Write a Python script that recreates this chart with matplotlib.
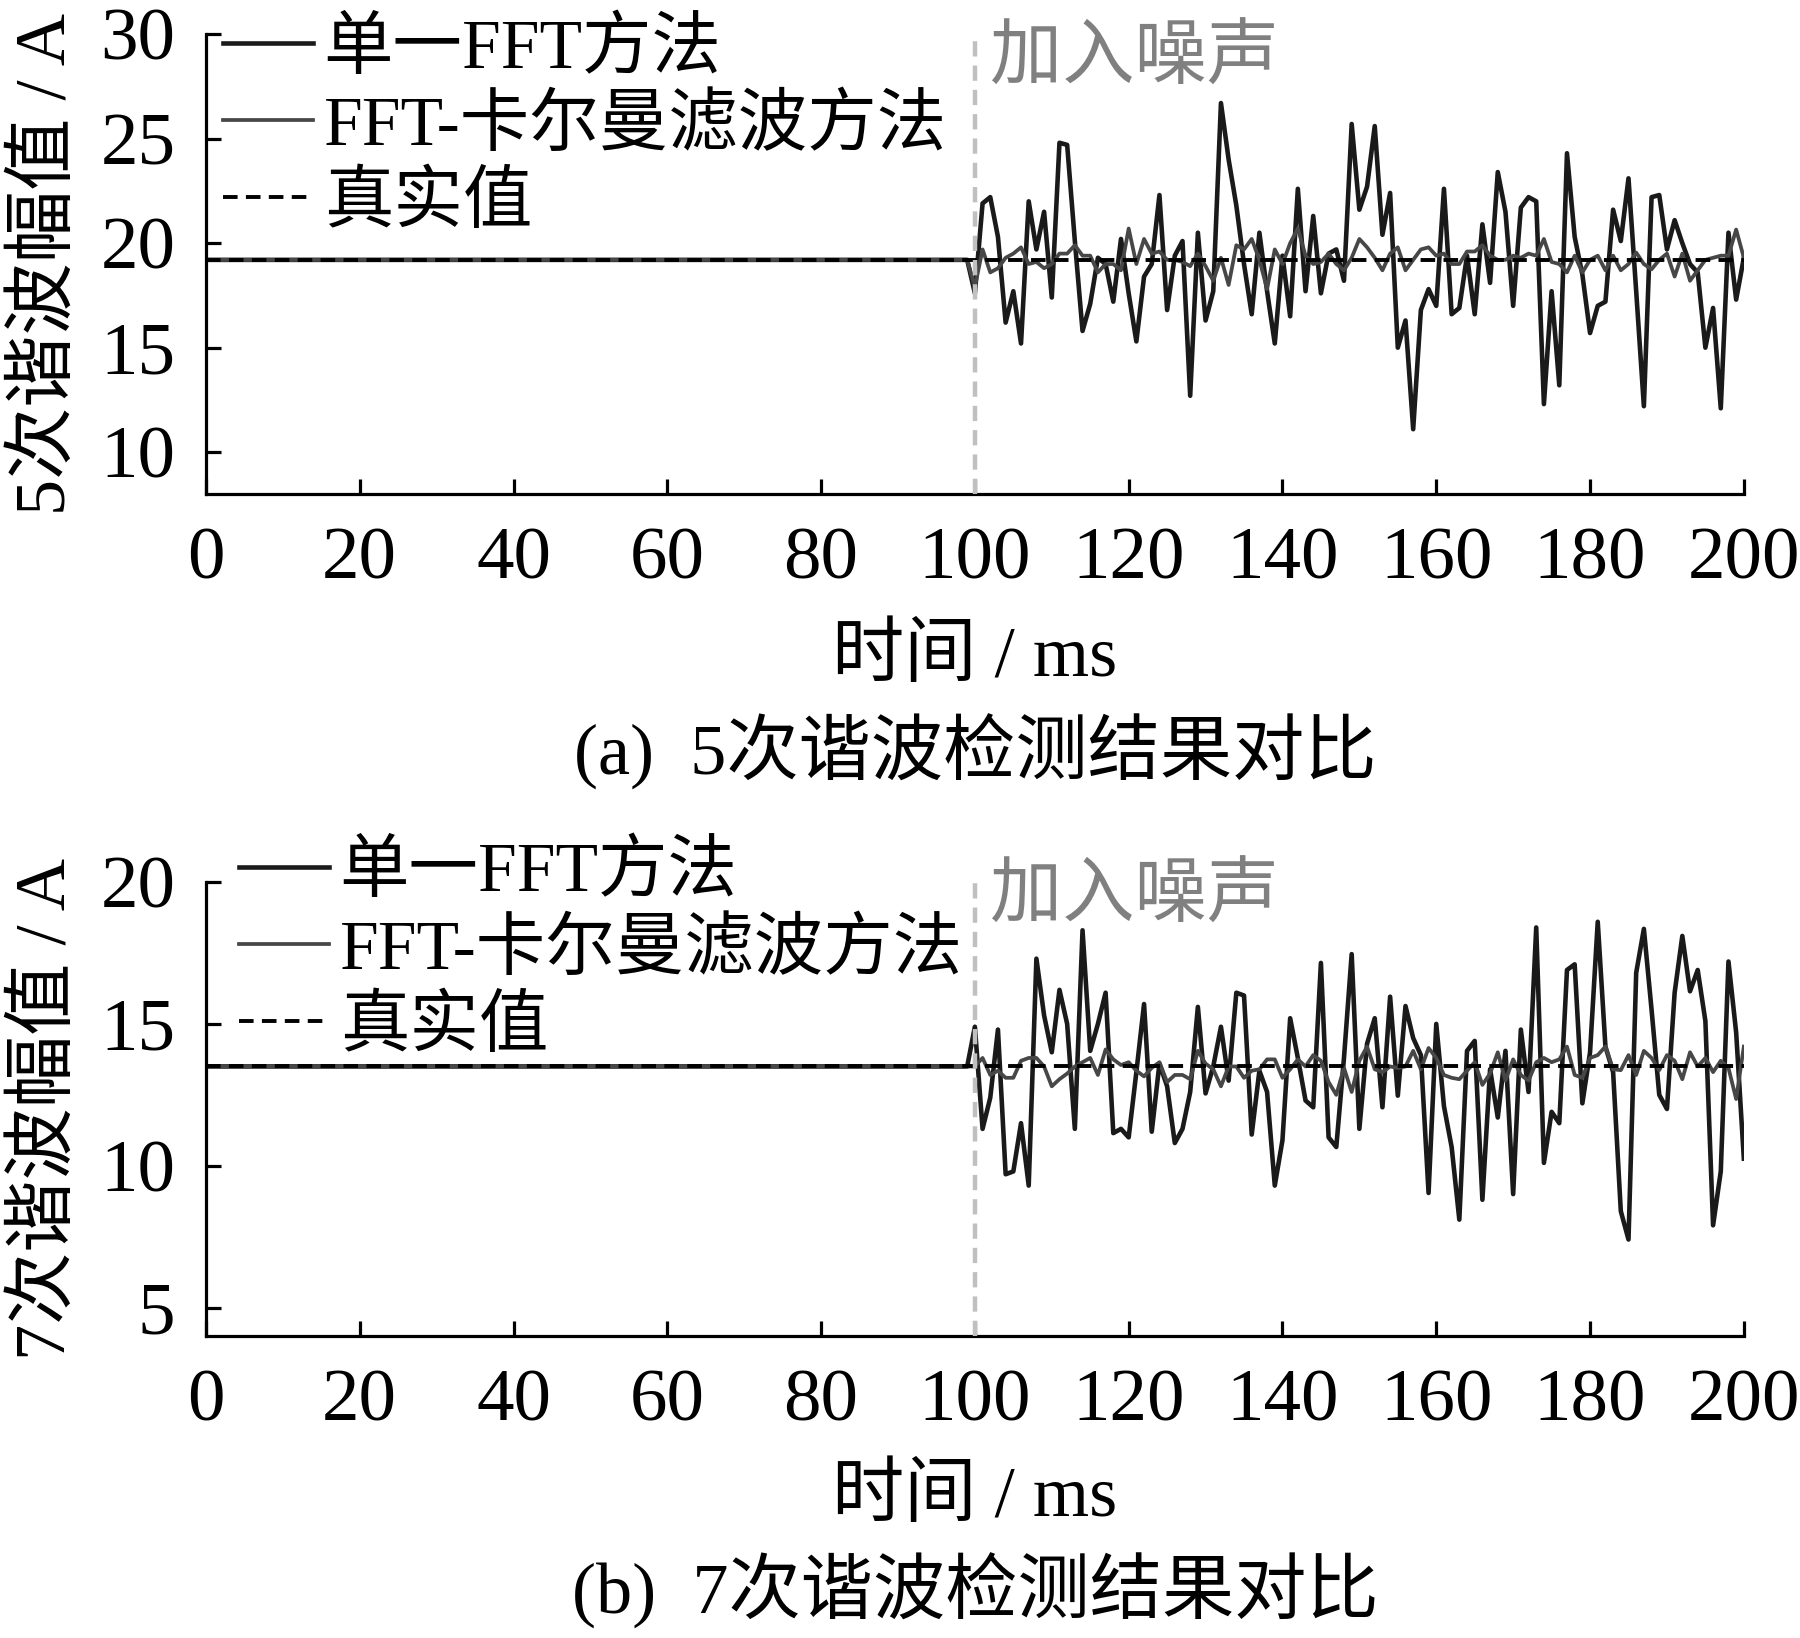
import numpy as np
import matplotlib

matplotlib.use("Agg")
import matplotlib.pyplot as plt

# time axis (ms); noise is switched on at 100 ms
time_ms = np.arange(0, 201)
noise_start = 100

# true harmonic amplitudes (A)
true_5 = 19.2
true_7 = 13.5

# 5th harmonic, samples 100..200 ms
fft_5 = [
    17.6, 21.9, 22.2, 20.3, 16.2, 17.7, 15.2, 22.0, 19.7, 21.5,
    17.4, 24.8, 24.7, 20.1, 15.8, 17.1, 19.3, 19.0, 17.2, 20.2,
    17.6, 15.3, 18.4, 19.0, 22.3, 16.8, 19.4, 20.1, 12.7, 20.5,
    16.3, 17.7, 26.7, 24.0, 21.8, 19.0, 16.6, 20.5, 17.7, 15.2,
    19.4, 16.5, 22.6, 17.7, 21.3, 17.6, 19.5, 19.7, 18.2, 25.7,
    21.6, 22.7, 25.6, 20.4, 22.4, 15.0, 16.3, 11.1, 16.8, 17.8,
    17.0, 22.6, 16.6, 16.9, 19.4, 16.6, 20.9, 18.1, 23.4, 21.5,
    17.0, 21.7, 22.2, 22.0, 12.3, 17.7, 13.2, 24.3, 20.3, 18.5,
    15.7, 17.0, 17.2, 21.6, 20.1, 23.1, 17.7, 12.2, 22.2, 22.3,
    19.7, 21.1, 20.0, 19.0, 18.6, 15.0, 16.9, 12.1, 20.5, 17.3,
    19.3,
]
kalman_5 = [
    17.9, 19.7, 18.6, 18.8, 19.3, 19.5, 19.8, 19.0, 19.1, 18.8,
    19.0, 19.5, 19.5, 19.9, 19.4, 19.4, 18.6, 19.0, 19.0, 18.7,
    20.7, 19.0, 20.2, 19.5, 19.6, 19.2, 19.2, 19.1, 18.9, 19.5,
    18.9, 18.2, 19.3, 18.0, 19.9, 19.7, 20.2, 19.2, 17.8, 19.7,
    19.0, 20.0, 20.7, 19.4, 19.0, 19.1, 19.5, 19.0, 18.7, 19.3,
    20.2, 19.8, 19.3, 18.7, 19.5, 19.8, 18.7, 19.2, 19.7, 19.8,
    19.4, 19.5, 19.0, 19.0, 19.6, 19.6, 19.9, 19.4, 19.2, 19.2,
    19.4, 19.3, 19.5, 19.4, 20.2, 19.1, 19.0, 18.6, 19.4, 18.6,
    19.2, 19.4, 18.7, 19.4, 18.7, 19.0, 19.55, 19.0, 18.75, 19.2,
    19.5, 18.4, 19.5, 18.2, 18.7, 19.2, 19.3, 19.4, 19.4, 20.65,
    19.3,
]

# 7th harmonic, samples 100..200 ms
fft_7 = [
    14.9, 11.3, 12.4, 14.8, 9.7, 9.8, 11.5, 9.3, 17.3, 15.3,
    14.0, 16.2, 15.0, 11.3, 18.3, 14.05, 15.0, 16.1, 11.15, 11.3,
    11.0, 13.3, 15.7, 11.2, 13.6, 12.8, 10.8, 11.3, 12.6, 15.6,
    12.55, 13.5, 14.9, 13.0, 16.1, 16.0, 11.1, 13.35, 12.6, 9.3,
    10.9, 15.2, 13.8, 12.3, 12.06, 17.15, 11.0, 10.66, 13.8, 17.46,
    11.3, 14.3, 15.2, 12.06, 15.96, 12.47, 15.63, 14.5, 13.9, 9.04,
    15.0, 12.1, 10.66, 8.1, 14.05, 14.4, 8.8, 13.4, 11.7, 14.05,
    9.0, 14.8, 12.6, 18.4, 10.1, 11.9, 11.5, 16.9, 17.1, 12.2,
    14.0, 18.6, 14.2, 13.3, 8.4, 7.4, 16.8, 18.35, 15.5, 12.5,
    12.0, 16.1, 18.1, 16.15, 16.9, 15.1, 7.9, 9.8, 17.2, 14.7,
    10.25,
]
kalman_7 = [
    13.5, 13.8, 13.2, 13.35, 13.1, 13.1, 13.7, 13.8, 13.8, 13.5,
    12.8, 13.05, 13.25, 13.5, 13.65, 13.8, 13.2, 14.1, 13.75, 13.55,
    13.65, 13.35, 13.15, 13.45, 13.65, 12.95, 13.2, 13.2, 13.05, 14.05,
    13.6, 13.4, 12.8, 13.5, 13.5, 13.1, 13.35, 13.4, 13.75, 13.75,
    13.1, 13.4, 13.75, 13.5, 13.9, 13.7, 12.95, 12.5, 13.45, 12.6,
    13.7, 14.2, 13.4, 13.3, 13.5, 13.45, 13.5, 14.05, 13.4, 14.15,
    13.8, 13.2, 13.1, 13.05, 13.35, 13.65, 12.85, 13.25, 14.0, 13.0,
    13.75, 13.2, 13.0, 13.65, 13.8, 13.65, 13.75, 14.2, 13.2, 13.1,
    13.8, 13.9, 14.2, 13.4, 13.37, 13.9, 13.2, 14.05, 13.8, 13.37,
    13.9, 13.7, 13.05, 14.0, 13.5, 13.8, 13.3, 13.7, 13.45, 12.35,
    14.2,
]

legend_labels = ["单一FFT方法", "FFT-卡尔曼滤波方法", "真实值"]
ylabels = ["5次谐波幅值 / A", "7次谐波幅值 / A"]
captions = ["(a)  5次谐波检测结果对比", "(b)  7次谐波检测结果对比"]
xlabel = "时间 / ms"
noise_label = "加入噪声"
xticks = list(range(0, 201, 20))
yticks_5 = [10, 15, 20, 25, 30]
yticks_7 = [5, 10, 15, 20]


def with_steady(level, noisy):
    # before 100 ms every method sits on the true value
    return np.concatenate([np.full(noise_start, level), noisy])


def draw_panel(fig, ax, true_val, fft_vals, kalman_vals, ylim, yticks,
               ylabel, caption, legend_xy, noise_y):
    ax.plot(time_ms, with_steady(true_val, fft_vals), color="#1a1a1a",
            lw=3.3, label=legend_labels[0])
    ax.plot(time_ms, with_steady(true_val, kalman_vals), color="#474747",
            lw=2.7, label=legend_labels[1])
    ax.plot([time_ms[0], time_ms[-1]], [true_val, true_val], color="black",
            lw=2.8, ls=(0, (10.5, 6.0)), label=legend_labels[2])
    ax.axvline(noise_start, color="#c0c0c0", lw=3.2, ls=(0, (11, 6.5)),
               zorder=5)

    ax.set_xlim(0, 200)
    ax.set_ylim(*ylim)
    ax.set_xticks(xticks)
    ax.set_yticks(yticks)
    ax.spines[["top", "right"]].set_visible(False)
    ax.spines[["left", "bottom"]].set_linewidth(2.3)
    ax.tick_params(direction="in", length=11, width=2.3, labelsize=54)
    ax.tick_params(axis="x", pad=24)
    ax.tick_params(axis="y", pad=22)

    ax.set_xlabel(xlabel, fontsize=52, va="center")
    ax.xaxis.set_label_coords(0.5, -0.356)
    ax.set_ylabel(ylabel, fontsize=52, va="center")
    ax.yaxis.set_label_coords(-0.104, 0.5)
    ax.text(0.5, -0.561, caption, transform=ax.transAxes, ha="center",
            va="center", fontsize=52)
    ax.text(102, noise_y, noise_label, color="#808080", fontsize=52,
            ha="left", va="center")

    ax.legend(loc="upper left", bbox_to_anchor=legend_xy,
              bbox_transform=fig.transFigure, frameon=False, fontsize=50,
              borderpad=0, borderaxespad=0, handlelength=1.3,
              handletextpad=0.15, labelspacing=0.18)


def main() -> None:
    plt.rcParams["font.family"] = ["Liberation Serif", "Noto Sans CJK SC"]
    plt.rcParams["lines.scale_dashes"] = False

    fig = plt.figure(figsize=(18, 16.38), dpi=100)
    ax5 = fig.add_axes([0.1144, 0.6984, 0.8544, 0.2808])
    ax7 = fig.add_axes([0.1144, 0.1844, 0.8544, 0.2771])

    draw_panel(fig, ax5, true_5, fft_5, kalman_5, (8, 30), yticks_5,
               ylabels[0], captions[0], (0.1239, 0.989), 28.75)
    draw_panel(fig, ax7, true_7, fft_7, kalman_7, (4, 20), yticks_7,
               ylabels[1], captions[1], (0.1328, 0.486), 19.44)

    fig.savefig("out.png", dpi=100)


if __name__ == "__main__":
    main()
